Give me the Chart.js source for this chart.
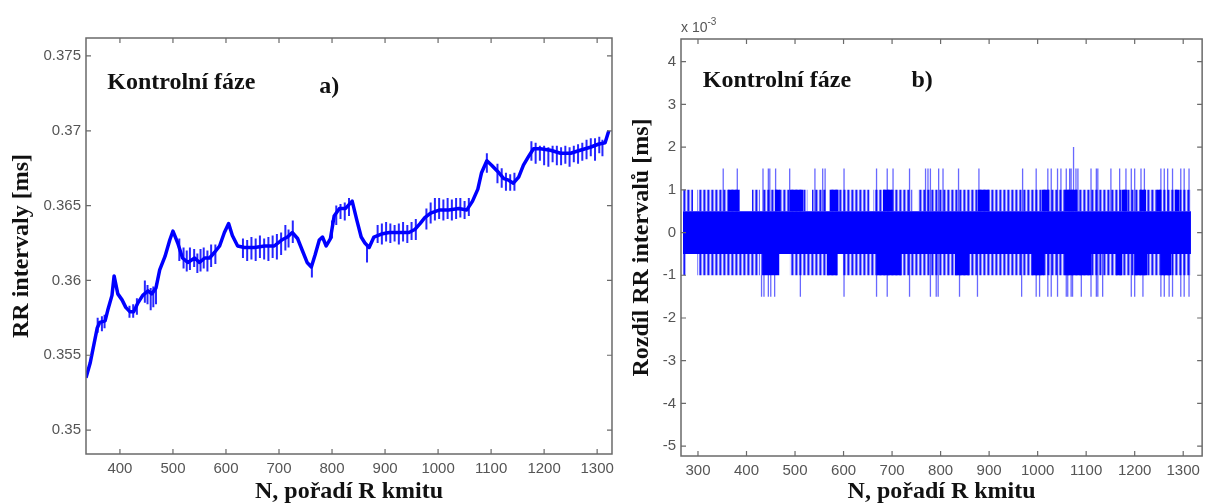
<!DOCTYPE html>
<html>
<head>
<meta charset="utf-8">
<script src="https://cdn.jsdelivr.net/npm/chart.js@4.4.1/dist/chart.umd.min.js"></script>
<style>
    html, body { margin: 0; padding: 0; background: #fff; }
    #wrap { position: relative; width: 1206px; height: 504px; overflow: hidden; }
    canvas { position: absolute; top: 0; }
    #chartA { left: 0; }
    #chartB { left: 620px; }
</style>
</head>
<body>
<div id="wrap">
    <canvas id="chartA" width="620" height="504"></canvas>
    <canvas id="chartB" width="586" height="504"></canvas>
</div>
<script>
/* ============================================================
   a) RR intervaly, b) rozdíl RR intervalů  (Kontrolní fáze)
   ============================================================ */

// --- a) trend of the RR series (N, value in s)
const rrN = [336, 344, 357, 362, 372, 377, 385, 389, 396, 404, 411, 419, 426, 434, 443, 453, 460, 468, 475, 485,
    494, 500, 509, 518, 528, 541, 550, 560, 569, 579, 588, 597, 605, 612, 622, 635, 654, 673, 691, 705,
    716, 725, 735, 744, 753, 761, 768, 776, 782, 789, 797, 804, 814, 825, 838, 847, 855, 862, 870, 879,
    893, 908, 926, 945, 956, 966, 975, 986, 1002, 1020, 1039, 1054, 1065, 1075, 1082, 1092, 1101, 1112, 1124, 1133,
    1142, 1152, 1161, 1171, 1180, 1193, 1212, 1231, 1250, 1268, 1287, 1302, 1315, 1322];
const rrVal = [0.3535, 0.3545, 0.3568, 0.3572, 0.3573, 0.3580, 0.3590, 0.3603, 0.3591, 0.3587, 0.3582, 0.3579, 0.3579, 0.3585, 0.3590, 0.3593, 0.3591, 0.3595, 0.3607, 0.3616,
    0.3627, 0.3633, 0.3625, 0.3615, 0.3612, 0.3615, 0.3612, 0.3615, 0.3615, 0.3619, 0.3623, 0.3632, 0.3638, 0.3630, 0.3623, 0.3622, 0.3622, 0.3623, 0.3623, 0.3627,
    0.3629, 0.3632, 0.3628, 0.3620, 0.3612, 0.3609, 0.3617, 0.3627, 0.3629, 0.3623, 0.3628, 0.3643, 0.3648, 0.3648, 0.3653, 0.3640, 0.3629, 0.3625, 0.3622, 0.3629,
    0.3631, 0.3632, 0.3632, 0.3632, 0.3634, 0.3638, 0.3642, 0.3645, 0.3647, 0.3647, 0.3648, 0.3647, 0.3653, 0.3661, 0.3672, 0.3680, 0.3677, 0.3673, 0.3668, 0.3667,
    0.3665, 0.3669, 0.3677, 0.3683, 0.3688, 0.3688, 0.3687, 0.3685, 0.3685, 0.3687, 0.3689, 0.3691, 0.3692, 0.3700];

// flicker of the quantised samples around the trend (N, low, high)
const rrTickN = [358, 366, 371, 418, 425, 432, 447, 452, 458, 463, 468, 512, 520, 526, 532, 540, 546, 552, 558, 565, 572, 580,
    632, 640, 648, 656, 664, 672, 680, 688, 696, 704, 712, 718, 726, 762, 800, 808, 816, 824, 832, 866,
    886, 894, 902, 910, 918, 926, 934, 942, 950, 958, 978, 986, 994, 1002, 1010, 1018, 1026, 1034, 1042, 1050, 1058,
    1092, 1112, 1120, 1128, 1136, 1144, 1176, 1184, 1192, 1200, 1208, 1216, 1224, 1232, 1240, 1248, 1256, 1264, 1272, 1280, 1288, 1296, 1304, 1310];
const rrTickLo = [0.3565, 0.3566, 0.3568, 0.3575, 0.3575, 0.3577, 0.3585, 0.3584, 0.3580, 0.3582, 0.3584, 0.3613, 0.3608, 0.3606, 0.3607, 0.3609, 0.3605, 0.3606, 0.3608, 0.3606, 0.3609, 0.3611,
    0.3615, 0.3613, 0.3614, 0.3613, 0.3615, 0.3614, 0.3613, 0.3615, 0.3614, 0.3617, 0.3620, 0.3622, 0.3625, 0.3602, 0.3628, 0.3637, 0.3641, 0.3640, 0.3643, 0.3612,
    0.3625, 0.3624, 0.3626, 0.3625, 0.3626, 0.3624, 0.3626, 0.3625, 0.3627, 0.3627, 0.3634, 0.3638, 0.3640, 0.3641, 0.3640, 0.3641, 0.3640, 0.3641, 0.3642, 0.3641, 0.3643,
    0.3672, 0.3665, 0.3662, 0.3660, 0.3660, 0.3660, 0.3680, 0.3678, 0.3680, 0.3677, 0.3676, 0.3679, 0.3677, 0.3677, 0.3678, 0.3676, 0.3679, 0.3678, 0.3680, 0.3681, 0.3683, 0.3680, 0.3685, 0.3683];
const rrTickHi = [0.3575, 0.3576, 0.3577, 0.3583, 0.3584, 0.3588, 0.3600, 0.3597, 0.3595, 0.3596, 0.3598, 0.3628, 0.3622, 0.3620, 0.3622, 0.3621, 0.3618, 0.3621, 0.3622, 0.3620, 0.3624, 0.3624,
    0.3628, 0.3627, 0.3629, 0.3628, 0.3630, 0.3628, 0.3629, 0.3630, 0.3631, 0.3632, 0.3637, 0.3634, 0.3640, 0.3612, 0.3640, 0.3650, 0.3651, 0.3652, 0.3655, 0.3624,
    0.3637, 0.3638, 0.3639, 0.3638, 0.3637, 0.3638, 0.3639, 0.3637, 0.3639, 0.3641, 0.3648, 0.3652, 0.3655, 0.3655, 0.3654, 0.3655, 0.3654, 0.3655, 0.3655, 0.3653, 0.3655,
    0.3685, 0.3678, 0.3675, 0.3672, 0.3671, 0.3672, 0.3693, 0.3692, 0.3690, 0.3690, 0.3689, 0.3690, 0.3690, 0.3689, 0.3690, 0.3689, 0.3690, 0.3691, 0.3692, 0.3694, 0.3695, 0.3695, 0.3696, 0.3694];

const aXTicks = [400, 500, 600, 700, 800, 900, 1000, 1100, 1200, 1300];
const aYTicks = [0.35, 0.355, 0.36, 0.365, 0.37, 0.375];
const aYLabels = ['0.35', '0.355', '0.36', '0.365', '0.37', '0.375'];

// --- b) differences (x 10^-3 s). Dense core between -0.5 and 0.5
const diffCoreN = [269, 1316];
// stretches where the samples reach +1 (striped) and where they are packed solid
const upBandFrom = [269, 298, 411, 432, 535, 571, 661, 753];
const upBandTo   = [290, 386, 428, 526, 564, 654, 742, 1316];
const upSolidFrom = [362, 458, 489, 571, 681, 876, 1008, 1055, 1173, 1210, 1245, 1282];
const upSolidTo   = [386, 469, 517, 590, 701, 901, 1024, 1082, 1185, 1224, 1255, 1292];
// stretches where the samples reach -1
const downBandFrom = [269, 298, 489, 598];
const downBandTo   = [275, 428, 588, 1316];
const downSolidFrom = [432, 565, 668, 829, 987, 1055, 1161, 1199, 1254];
const downSolidTo   = [468, 588, 720, 860, 1014, 1111, 1175, 1226, 1275];
// single samples at +1.5, +2 and -1.5
const spikeUpN = [352, 381, 434, 445, 448, 460, 489, 541, 557, 562, 601, 668, 690, 702, 736, 769, 774, 779, 796, 805,
    837, 879, 969, 997, 1021, 1028, 1041, 1048, 1059, 1066, 1069, 1079, 1083, 1110, 1121, 1124, 1151, 1169, 1182, 1193,
    1200, 1213, 1220, 1254, 1261, 1268, 1278, 1295, 1302, 1312];
const spikeTopN = [1074];
const spikeDownN = [431, 436, 445, 450, 458, 511, 601, 668, 690, 736, 779, 791, 795, 839, 876, 967, 997, 1004, 1021, 1028,
    1041, 1059, 1062, 1069, 1072, 1090, 1110, 1121, 1124, 1134, 1193, 1200, 1217, 1254, 1261, 1271, 1278, 1295, 1302, 1312];

const bXTicks = [300, 400, 500, 600, 700, 800, 900, 1000, 1100, 1200, 1300];
const bYTicks = [-5, -4, -3, -2, -1, 0, 1, 2, 3, 4];
const bYLabels = ['-5', '-4', '-3', '-2', '-1', '0', '1', '2', '3', '4'];

// --- styles
const BLUE = '#0000ff';
const AXIS_COLOR = '#6a6a6a';
const TICK_COLOR = '#555';
const SERIF = '"Liberation Serif", "Times New Roman", serif';
const SANS = '"Liberation Sans", Arial, sans-serif';
const TICK_FONT = { family: SANS, size: 15 };
const TITLE_FONT = { family: SERIF, size: 24, weight: 'bold', lineHeight: 1 };

// MATLAB-like box with inward ticks + text notes
const boxTicks = {
    id: 'boxTicks',
    afterDatasetsDraw(chart, args, opts) {
        const { ctx, chartArea: a, scales: { x, y } } = chart;
        ctx.save();
        ctx.strokeStyle = AXIS_COLOR;
        ctx.lineWidth = 1.5;
        ctx.strokeRect(a.left, a.top, a.right - a.left, a.bottom - a.top);
        ctx.lineWidth = 1.2;
        ctx.beginPath();
        x.ticks.forEach(t => {
            const px = x.getPixelForValue(t.value);
            ctx.moveTo(px, a.bottom); ctx.lineTo(px, a.bottom - 5);
            ctx.moveTo(px, a.top); ctx.lineTo(px, a.top + 5);
        });
        y.ticks.forEach(t => {
            const py = y.getPixelForValue(t.value);
            ctx.moveTo(a.left, py); ctx.lineTo(a.left + 5, py);
            ctx.moveTo(a.right, py); ctx.lineTo(a.right - 5, py);
        });
        ctx.stroke();

        ctx.fillStyle = '#111';
        ctx.font = `bold 24px ${SERIF}`;
        ctx.textBaseline = 'alphabetic';
        ctx.textAlign = 'left';
        (opts.notes || []).forEach(n => {
            ctx.fillText(n.text, x.getPixelForValue(n.x), y.getPixelForValue(n.y));
        });

        if (opts.exponent) {
            ctx.fillStyle = TICK_COLOR;
            ctx.font = `14px ${SANS}`;
            ctx.fillText('x 10', a.left, a.top - 7);
            const w = ctx.measureText('x 10').width;
            ctx.font = `10px ${SANS}`;
            ctx.fillText(opts.exponent, a.left + w, a.top - 14);
        }
        ctx.restore();
    }
};

function xAxis(min, max, ticks, height) {
    return {
        type: 'linear', min: min, max: max,
        grid: { display: false, drawTicks: false },
        border: { display: false },
        ticks: { font: TICK_FONT, color: TICK_COLOR, padding: 6, maxRotation: 0, autoSkip: false, callback: v => String(v) },
        afterBuildTicks: s => { s.ticks = ticks.map(v => ({ value: v })); },
        afterFit: s => { s.height = height; },
        title: { display: true, text: 'N, pořadí R kmitu', font: TITLE_FONT, color: '#111', padding: { top: 0, bottom: 0 } }
    };
}

function yAxis(min, max, ticks, labels, width, title) {
    return {
        min: min, max: max,
        grid: { display: false, drawTicks: false },
        border: { display: false },
        ticks: { font: TICK_FONT, color: TICK_COLOR, padding: 5, autoSkip: false, callback: (v, i) => labels[i] },
        afterBuildTicks: s => { s.ticks = ticks.map(v => ({ value: v })); },
        afterFit: s => { s.width = width; },
        title: { display: true, text: title, font: TITLE_FONT, color: '#111', padding: { top: 10, bottom: 0 } }
    };
}

function baseOptions(padding, scales, notes, exponent) {
    return {
        responsive: false,
        devicePixelRatio: 1,
        animation: false,
        layout: { padding: padding },
        elements: { point: { radius: 0 }, line: { tension: 0 } },
        plugins: {
            legend: { display: false },
            tooltip: { enabled: false },
            boxTicks: { notes: notes, exponent: exponent }
        },
        scales: scales
    };
}

// vertical strokes from a list of x positions
const strokes = (ns, lo, hi) => ns.flatMap((n, i) => [
    { x: n, y: Array.isArray(lo) ? lo[i] : lo },
    { x: n, y: Array.isArray(hi) ? hi[i] : hi },
    { x: n, y: null }
]);

// fill between level and base over [from, to] stretches
const bands = (from, to, level, base, color) => from.map((s, i) => ({
    data: [{ x: s, y: level }, { x: to[i], y: level }],
    fill: { value: base },
    backgroundColor: color,
    borderWidth: 0
}));

function stripes() {
    const c = document.createElement('canvas');
    c.width = 4; c.height = 1;
    const g = c.getContext('2d');
    [0.9, 0.45, 0.1, 0.6].forEach((al, i) => {
        g.fillStyle = `rgba(0,0,255,${al})`;
        g.fillRect(i, 0, 1, 1);
    });
    return g.createPattern(c, 'repeat');
}

window.onload = function() {
    // a)
    new Chart(document.getElementById('chartA'), {
        type: 'line',
        data: {
            datasets: [
                {
                    data: rrN.map((n, i) => ({ x: n, y: rrVal[i] })),
                    borderColor: BLUE, borderWidth: 3.5, borderJoinStyle: 'round', fill: false
                },
                {
                    data: strokes(rrTickN, rrTickLo, rrTickHi),
                    borderColor: 'rgba(0,0,255,0.85)', borderWidth: 2, fill: false
                }
            ]
        },
        options: baseOptions(
            { top: 38, right: 6 },
            {
                x: xAxis(336, 1328, aXTicks, 50),
                y: yAxis(0.3484, 0.3762, aYTicks, aYLabels, 86, 'RR intervaly [ms]')
            },
            [{ text: 'Kontrolní fáze', x: 376, y: 0.3728 }, { text: 'a)', x: 776, y: 0.3725 }],
            null
        ),
        plugins: [boxTicks]
    });

    // b)
    const striped = stripes();
    const datasets = []
        .concat(bands(upBandFrom, upBandTo, 1, 0.5, striped))
        .concat(bands(downBandFrom, downBandTo, -1, -0.5, striped))
        .concat(bands(upSolidFrom, upSolidTo, 1, 0.5, BLUE))
        .concat(bands(downSolidFrom, downSolidTo, -1, -0.5, BLUE))
        .concat([{
            data: [{ x: diffCoreN[0], y: 0.5 }, { x: diffCoreN[1], y: 0.5 }],
            fill: { value: -0.5 }, backgroundColor: BLUE, borderWidth: 0
        }])
        .concat([
            { data: strokes(spikeUpN, 0.5, 1.5), borderColor: 'rgba(40,40,255,0.7)', borderWidth: 1.3, fill: false },
            { data: strokes(spikeDownN, -0.5, -1.5), borderColor: 'rgba(40,40,255,0.7)', borderWidth: 1.3, fill: false },
            { data: strokes(spikeTopN, 0.5, 2), borderColor: 'rgba(40,40,255,0.7)', borderWidth: 1.3, fill: false }
        ]);

    new Chart(document.getElementById('chartB'), {
        type: 'line',
        data: { datasets: datasets },
        options: baseOptions(
            { top: 39, right: 3 },
            {
                x: xAxis(265, 1339, bXTicks, 48),
                y: yAxis(-5.23, 4.53, bYTicks, bYLabels, 61, 'Rozdíl RR intervalů [ms]')
            },
            [{ text: 'Kontrolní fáze', x: 310, y: 3.4 }, { text: 'b)', x: 740, y: 3.4 }],
            '-3'
        ),
        plugins: [boxTicks]
    });
};
</script>
</body>
</html>
